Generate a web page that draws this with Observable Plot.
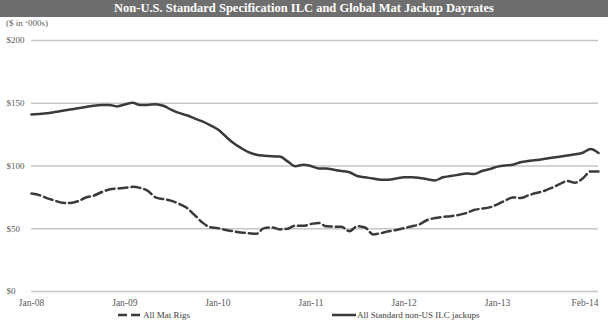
<!DOCTYPE html>
<html><head><meta charset="utf-8">
<script src="https://cdn.jsdelivr.net/npm/d3@7"></script>
<script src="https://cdn.jsdelivr.net/npm/@observablehq/plot@0.6"></script>
<style>
body{margin:0;background:#fff;}
#wrap{position:relative;width:608px;height:321px;overflow:hidden;font-family:"Liberation Serif","Times New Roman",serif;}
#title{position:absolute;left:0;top:0;width:608px;height:17px;background:#6e6e6e;color:#fff;font-weight:bold;font-size:12.5px;line-height:17px;text-align:center;white-space:nowrap;}
#sub{position:absolute;left:6px;top:18px;font-size:9px;line-height:11px;color:#595959;}
#chart{position:absolute;left:0;top:17px;}
.leg{position:absolute;top:309px;height:12px;font-size:9px;line-height:12px;color:#404040;white-space:nowrap;}
.sw{position:absolute;top:309px;}
</style>
</head><body>
<div id="wrap">
  <div id="title">Non-U.S. Standard Specification ILC and Global Mat Jackup Dayrates</div>
  <div id="chart"></div>
  <div id="sub">($ in ‘000s)</div>
  <svg class="sw" style="left:118px" width="25" height="12"><line x1="0" y1="6" x2="25" y2="6" stroke="#3a3a3a" stroke-width="2.5" stroke-dasharray="9,4"/></svg>
  <div class="leg" style="left:143px">All Mat Rigs</div>
  <svg class="sw" style="left:332px" width="24" height="12"><line x1="0" y1="6" x2="24" y2="6" stroke="#3a3a3a" stroke-width="2.5"/></svg>
  <div class="leg" style="left:357px">All Standard non-US ILC jackups</div>
</div>
<script>
// Monthly observations, Jan-2008 .. Feb-2014
const startMonth = new Date(Date.UTC(2008, 0, 1));
const endMonth = new Date(Date.UTC(2014, 2, 1));
const months = d3.utcMonth.range(startMonth, endMonth);

// All Mat Rigs ($'000s)
const matRigs = [78,76.8,74.4,72.5,70.7,70.5,71.9,74.9,76.4,79.1,81.3,82,82.6,83.4,82.6,80.2,75,73.6,72.4,69.9,
  66.7,61,55,51.3,50.5,49,48,47,46.5,46,50.5,51,49.5,50,52.5,52.3,53.8,54.6,
  51.9,51.7,51.5,48,52,51,45.5,46.5,48,49,50.5,52,53.5,57,58.5,59.5,60,61,62.5,
  65,66,67,69.5,72.5,75,74.5,76.5,78.5,80,82.5,85.5,88,86.7,90,95.7,95.7];

// All Standard non-US ILC jackups ($'000s)
const standardILC = [141,141.5,142,143,144,145,146,147,148,148.7,148.7,147.5,149,150.4,148.6,148.7,149.3,148,145,142.3,
  140.4,138,135.5,132.5,129,123.5,118.5,114.4,111,109,108.2,107.7,107.5,103.7,99.8,101,100,98,
  98,97,96,95,92,91,90,89,89,90,91,91,90.5,89.5,88.5,91,92,93,94,
  93.6,96,97.5,99.5,100.5,101,103,104,104.7,105.6,106.5,107.4,108.3,109.3,110.6,113.6,110.4];

const yTicks = [0, 50, 100, 150, 200];
const xTickLabels = ["Jan-08","Jan-09","Jan-10","Jan-11","Jan-12","Jan-13","Feb-14"];
const xTickDates = ["2008-01-01","2009-01-01","2010-01-01","2011-01-01","2012-01-01","2013-01-01","2014-02-01"].map(d => new Date(d));

const data = months.map((m, i) => ({date: m, mat: matRigs[i], std: standardILC[i]}));
const xt = xTickLabels.map((t, i) => ({label: t, date: xTickDates[i]}));

const chart = Plot.plot({
  width: 608, height: 290,
  marginLeft: 31, marginRight: 10, marginTop: 23, marginBottom: 16,
  style: {background: "transparent", fontFamily: "'Liberation Serif', serif", fontSize: "9px"},
  x: {type: "utc", domain: [months[0], months[months.length - 1]], axis: null},
  y: {domain: [0, 200], axis: null},
  marks: [
    Plot.ruleY(yTicks, {stroke: "#c6c6c6", strokeWidth: 1.3}),
    Plot.text(yTicks, {x: () => months[0], y: d => d, text: d => "$" + d, textAnchor: "start", dx: -25, fill: "#595959", fontSize: 9}),
    Plot.text(xt.slice(0, -1), {x: "date", y: () => 0, text: "label", dy: 11, fill: "#595959", fontSize: 9.5}),
    Plot.text(xt.slice(-1), {x: "date", y: () => 0, text: "label", dy: 11, textAnchor: "end", fill: "#595959", fontSize: 9.5}),
    Plot.line(data, {x: "date", y: "mat", curve: "monotone-x", stroke: "#3a3a3a", strokeWidth: 2.5, strokeDasharray: "9,4"}),
    Plot.line(data, {x: "date", y: "std", curve: "monotone-x", stroke: "#3a3a3a", strokeWidth: 2.5})
  ]
});
document.getElementById("chart").appendChild(chart);
</script>
</body></html>
